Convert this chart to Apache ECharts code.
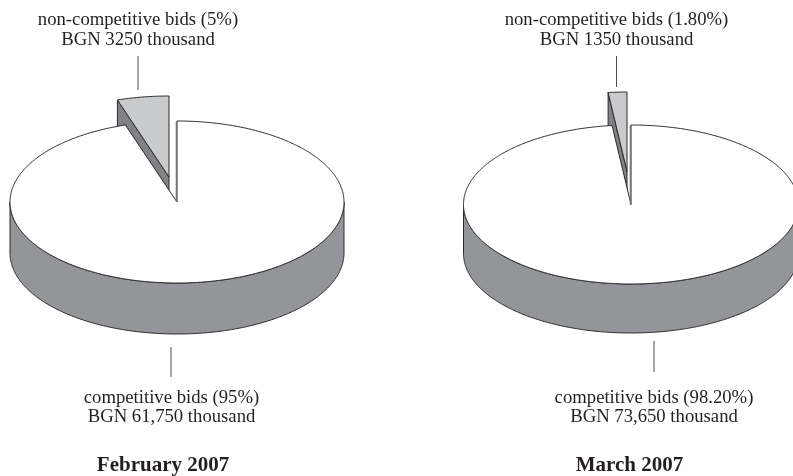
<!DOCTYPE html>
<html lang="en">

<head>
    <meta charset="UTF-8">
    <title>Competitive and non-competitive bids</title>
    <script src="https://cdn.jsdelivr.net/npm/echarts@6/dist/echarts.min.js"></script>
    <style>
        html, body { margin: 0; background: #fff; }
        #chart { width: 793px; height: 476px; }
    </style>
</head>

<body>
    <div id="chart"></div>
    <script>
        // values in BGN thousand
        const months = ['February 2007', 'March 2007'];
        const competitive = [61750, 73650];
        const nonCompetitive = [3250, 1350];
        const competitiveLabels = [['competitive bids (95%)', 'BGN 61,750 thousand'], ['competitive bids (98.20%)', 'BGN 73,650 thousand']];
        const nonCompetitiveLabels = [['non-competitive bids (5%)', 'BGN 3250 thousand'], ['non-competitive bids (1.80%)', 'BGN 1350 thousand']];

        // layout of each pie
        const pies = [
            { cx: 177, cy: 202, rx: 167, ry: 81, depth: 51, ox: -8, oy: -25, topX: 138, topLine: [56, 90], botX: 171, botLine: [347, 377], botText: 171.5, title: 163 },
            { cx: 631, cy: 204.5, rx: 167.5, ry: 79.5, depth: 49, ox: -4, oy: -33, topX: 616.5, topLine: [56, 87], botX: 654, botLine: [341, 372], botText: 654, title: 629.5 }
        ];

        const STROKE = '#2b2a2b';
        const TOP_BIG = '#ffffff';
        const WALL_BIG = '#939598';
        const TOP_SMALL = '#c9cacc';
        const WALL_SMALL = '#808285';

        // angle measured clockwise from 12 o'clock
        function ptOnEllipse(p, a, dx, dy) {
            return [p.cx + dx + Math.sin(a) * p.rx, p.cy + dy - Math.cos(a) * p.ry];
        }

        function arcPoints(p, a0, a1, dx, dy) {
            const pts = [];
            const n = Math.max(2, Math.ceil(Math.abs(a1 - a0) / 0.01));
            for (let i = 0; i <= n; i++) {
                pts.push(ptOnEllipse(p, a0 + (a1 - a0) * i / n, dx, dy));
            }
            return pts;
        }

        function poly(points, fill, z) {
            return {
                type: 'polygon',
                z2: z,
                shape: { points: points },
                style: { fill: fill, stroke: STROKE, lineWidth: 1, lineJoin: 'round' }
            };
        }

        function edge(a, b, color, width, z) {
            return {
                type: 'line',
                z2: z,
                shape: { x1: a[0], y1: a[1], x2: b[0], y2: b[1] },
                style: { stroke: color, lineWidth: width }
            };
        }

        function renderPie(params, api) {
            const p = pies[params.seriesIndex];
            const big = api.value(0);
            const small = api.value(1);
            const split = 2 * Math.PI * big / (big + small);
            const full = 2 * Math.PI;
            const children = [];

            // pulled out slice: inner side wall, then top face
            const sTop = ptOnEllipse(p, split, p.ox, p.oy);
            const sTip = [p.cx + p.ox, p.cy + p.oy];
            children.push(poly([sTop, sTip, [sTip[0], sTip[1] + p.depth], [sTop[0], sTop[1] + p.depth]], WALL_SMALL, 1));
            children.push(poly([sTip].concat(arcPoints(p, split, full, p.ox, p.oy)), TOP_SMALL, 2));

            // big slice: front wall, then top face
            const front = arcPoints(p, Math.PI / 2, 3 * Math.PI / 2, 0, 0);
            const frontLow = front.map(function (q) { return [q[0], q[1] + p.depth]; }).reverse();
            children.push(poly(front.concat(frontLow), WALL_BIG, 3));
            children.push(poly([[p.cx, p.cy]].concat(arcPoints(p, 0, split, 0, 0)), TOP_BIG, 4));

            // grey cut edge of the big slice
            children.push(edge([p.cx - 0.5, p.cy - p.ry], [p.cx - 0.5, p.cy], '#77787b', 1.6, 5));

            return { type: 'group', children: children };
        }

        const graphics = [];
        function addText(x, y, text, bold) {
            graphics.push({
                type: 'text',
                x: x,
                y: y,
                style: {
                    text: text,
                    x: 0,
                    y: 0,
                    align: 'center',
                    verticalAlign: 'middle',
                    fill: '#231f20',
                    font: bold ? 'bold 21px "Liberation Serif"' : '18.7px "Liberation Serif"'
                }
            });
        }
        function addLine(x, range) {
            graphics.push({
                type: 'line',
                shape: { x1: x, y1: range[0], x2: x, y2: range[1] },
                style: { stroke: '#4d4d4f', lineWidth: 1 }
            });
        }

        pies.forEach(function (p, i) {
            addText(p.topX, 20, nonCompetitiveLabels[i][0]);
            addText(p.topX, 40, nonCompetitiveLabels[i][1]);
            addText(p.botText, 398, competitiveLabels[i][0]);
            addText(p.botText, 417.5, competitiveLabels[i][1]);
            addText(p.title, 466, months[i], true);
            addLine(p.topX, p.topLine);
            addLine(p.botX, p.botLine);
        });

        const myChart = echarts.init(document.getElementById('chart'), null, { renderer: 'canvas' });
        myChart.setOption({
            animation: false,
            backgroundColor: '#ffffff',
            graphic: graphics,
            series: months.map(function (m, i) {
                return {
                    type: 'custom',
                    name: m,
                    coordinateSystem: 'none',
                    silent: true,
                    renderItem: renderPie,
                    data: [[competitive[i], nonCompetitive[i]]]
                };
            })
        });
    </script>
</body>

</html>
